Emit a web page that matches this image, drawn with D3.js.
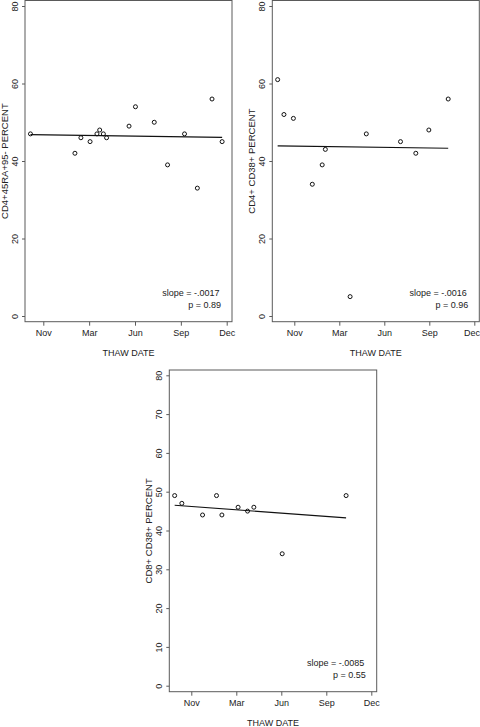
<!DOCTYPE html>
<html>
<head>
<meta charset="utf-8">
<script src="https://cdn.jsdelivr.net/npm/d3@7"></script>
<style>
  html, body { margin: 0; padding: 0; background: #fff; }
  svg { display: block; }
  text { font-family: "Liberation Sans", Arial, sans-serif; fill: #222; }
</style>
</head>
<body>
<svg id="chart" width="480" height="727"></svg>
<script>
// ---------- DATA ----------
const monthTickDays = [0, 100, 200, 300, 400];
const monthTickLabels = ["Nov", "Mar", "Jun", "Sep", "Dec"];
const xTitle = "THAW DATE";

const cd4raTitle = "CD4+45RA+95- PERCENT";
const cd4raDays = [-28, 69, 82, 102, 117, 123, 131, 138, 187, 201, 242, 271, 308, 336, 368, 390];
const cd4raValues = [47, 42, 46, 45, 47, 48, 47, 46, 49, 54, 50, 39, 47, 33, 56, 45];
const cd4raFit = { intercept: 46.75, slope: -0.0017 };
const cd4raStats = ["slope = -.0017", "p = 0.89"];

const cd4cd38Title = "CD4+ CD38+ PERCENT";
const cd4cd38Days = [-37, -23, -2, 40, 62, 69, 124, 160, 236, 270, 299, 342];
const cd4cd38Values = [61, 52, 51, 34, 39, 43, 5, 47, 45, 42, 48, 56];
const cd4cd38Fit = { intercept: 43.84, slope: -0.0016 };
const cd4cd38Stats = ["slope = -.0016", "p = 0.96"];

const cd8cd38Title = "CD8+ CD38+ PERCENT";
const cd8cd38Days = [-37, -21, 25, 56, 68, 104, 125, 139, 202, 344];
const cd8cd38Values = [49, 47, 44, 49, 44, 46, 45, 46, 34, 49];
const cd8cd38Fit = { intercept: 46.19, slope: -0.0085 };
const cd8cd38Stats = ["slope = -.0085", "p = 0.55"];

const yTicksTop = [0, 20, 40, 60, 80];
const yTicksBottom = [0, 10, 20, 30, 40, 50, 60, 70, 80];

// ---------- LAYOUT ----------
const panels = [
  { title: cd4raTitle, days: cd4raDays, values: cd4raValues, fit: cd4raFit, stats: cd4raStats,
    yTicks: yTicksTop,
    box: { l: 25, t: 0.5, r: 232, b: 321.7 },
    xr: [43.3, 226.7], yr: [316, 6] },
  { title: cd4cd38Title, days: cd4cd38Days, values: cd4cd38Values, fit: cd4cd38Fit, stats: cd4cd38Stats,
    yTicks: yTicksTop,
    box: { l: 272.3, t: 0.5, r: 479.3, b: 321.7 },
    xr: [294.3, 474.3], yr: [316, 6] },
  { title: cd8cd38Title, days: cd8cd38Days, values: cd8cd38Values, fit: cd8cd38Fit, stats: cd8cd38Stats,
    yTicks: yTicksBottom,
    box: { l: 169.3, t: 370, r: 376.7, b: 691.7 },
    xr: [191.3, 371.3], yr: [685.7, 375.3] }
];

const svg = d3.select("#chart");
const frameColor = "#5a5a5a";
const svgWidth = 480;

panels.forEach(p => {
  const g = svg.append("g");
  const x = d3.scaleLinear().domain([0, 400]).range(p.xr);
  const y = d3.scaleLinear().domain([0, 80]).range(p.yr);
  const B = p.box;

  // frame
  g.append("rect")
    .attr("x", B.l).attr("y", B.t)
    .attr("width", B.r - B.l).attr("height", B.b - B.t)
    .attr("fill", "none").attr("stroke", frameColor).attr("stroke-width", 1);

  // x axis
  const xAxis = d3.axisBottom(x)
    .tickValues(monthTickDays)
    .tickFormat((d, i) => monthTickLabels[i])
    .tickSize(4).tickPadding(4);
  const xg = g.append("g").attr("transform", `translate(0,${B.b})`).call(xAxis);
  xg.select(".domain").remove();
  xg.selectAll(".tick line").attr("stroke", frameColor);
  xg.selectAll(".tick text")
    .attr("font-size", 9).attr("fill", "#222")
    .style("font-family", "'Liberation Sans', Arial, sans-serif");
  // keep labels inside the page
  xg.selectAll(".tick").each(function(d) {
    const t = d3.select(this).select("text");
    const w = t.node().getComputedTextLength();
    const right = x(d) + w / 2;
    if (right > svgWidth - 0.5) {
      t.attr("x", svgWidth - 0.5 - right);
    }
  });

  // y axis
  const yAxis = d3.axisLeft(y)
    .tickValues(p.yTicks)
    .tickFormat(d3.format("d"))
    .tickSize(3);
  const yg = g.append("g").attr("transform", `translate(${B.l},0)`).call(yAxis);
  yg.select(".domain").remove();
  yg.selectAll(".tick line").attr("stroke", frameColor);
  yg.selectAll(".tick text")
    .attr("x", null).attr("dy", null)
    .attr("text-anchor", "middle")
    .attr("transform", "translate(-7,0) rotate(-90)")
    .attr("font-size", 9).attr("fill", "#222")
    .style("font-family", "'Liberation Sans', Arial, sans-serif");

  // axis titles
  g.append("text")
    .attr("x", (B.l + B.r) / 2).attr("y", B.b + 34.5)
    .attr("text-anchor", "middle").attr("font-size", 9)
    .text(xTitle);
  const cy = (B.t + B.b) / 2;
  g.append("text")
    .attr("transform", `translate(${B.l - 17.5},${cy}) rotate(-90)`)
    .attr("text-anchor", "middle").attr("font-size", 9.5)
    .text(p.title);

  // fitted line
  const dMin = d3.min(p.days), dMax = d3.max(p.days);
  const fitPts = [dMin, dMax].map(d => [d, p.fit.intercept + p.fit.slope * d]);
  g.append("path")
    .attr("d", d3.line().x(d => x(d[0])).y(d => y(d[1]))(fitPts))
    .attr("fill", "none").attr("stroke", "#111").attr("stroke-width", 1.1);

  // points
  g.selectAll("circle.pt")
    .data(p.days.map((d, i) => [d, p.values[i]]))
    .join("circle").attr("class", "pt")
    .attr("cx", d => x(d[0])).attr("cy", d => y(d[1]))
    .attr("r", 2).attr("fill", "none").attr("stroke", "#111").attr("stroke-width", 1);

  // stats
  g.append("text")
    .attr("x", B.r - 12.5).attr("y", B.b - 25.5)
    .attr("text-anchor", "end").attr("font-size", 9)
    .text(p.stats[0]);
  g.append("text")
    .attr("x", B.r - 11).attr("y", B.b - 14)
    .attr("text-anchor", "end").attr("font-size", 9)
    .text(p.stats[1]);
});
</script>
</body>
</html>
